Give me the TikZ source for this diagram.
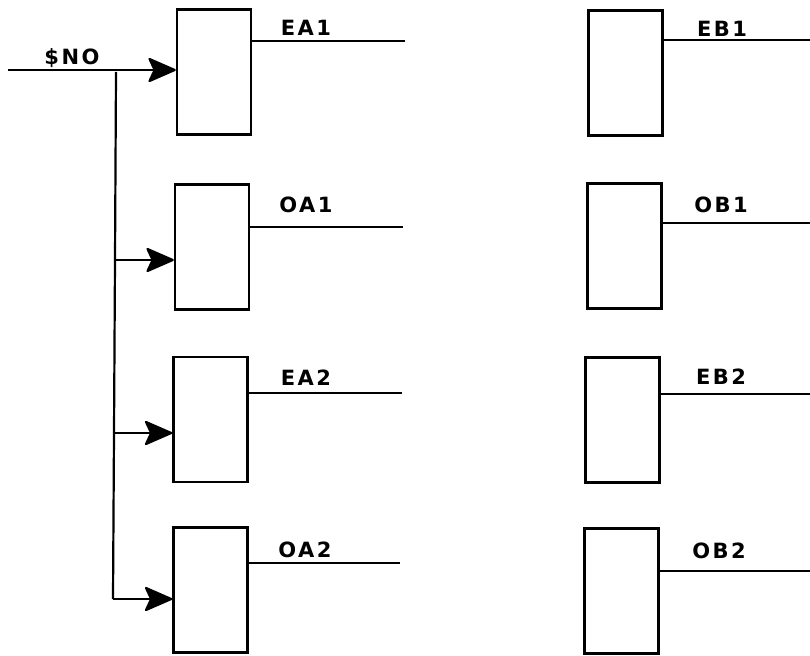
\documentclass[tikz,border=0pt]{standalone}
\usepackage{fontspec}
\newfontfamily\labfont[LetterSpace=12]{DejaVu Sans Bold}
\usetikzlibrary{arrows.meta}
\begin{document}
\begin{tikzpicture}[x=1pt,y=-1pt,
  blk/.style={draw,line width=2.4pt,minimum width=74pt,minimum height=125pt,inner sep=0pt},
  wire/.style={line width=2.2pt},
  feed/.style={line width=2.2pt,-{Stealth[length=30pt,width=26pt,inset=6pt,round]}},
  lab/.style={font=\labfont\fontsize{21}{24}\selectfont,inner sep=0pt,anchor=center}]
\useasboundingbox (0,0) rectangle (810,655);
% boxes
\node[blk] (a1) at (214,72) {};
\node[blk] (a2) at (212,247) {};
\node[blk] (a3) at (210.5,419.5) {};
\node[blk] (a4) at (210.5,590) {};
\node[blk] (b1) at (625.5,73) {};
\node[blk] (b2) at (624.5,246) {};
\node[blk] (b3) at (622.5,420) {};
\node[blk] (b4) at (621.5,591) {};
% output line ends
\coordinate (ea1) at (405,41);
\coordinate (oa1) at (403,227);
\coordinate (ea2) at (402,393);
\coordinate (oa2) at (400,563);
\coordinate (eb1) at (810,40);
\coordinate (ob1) at (810,223);
\coordinate (eb2) at (810,394);
\coordinate (ob2) at (810,571);
\draw[wire] (ea1 -| a1.east) -- (ea1);
\draw[wire] (oa1 -| a2.east) -- (oa1);
\draw[wire] (ea2 -| a3.east) -- (ea2);
\draw[wire] (oa2 -| a4.east) -- (oa2);
\draw[wire] (eb1 -| b1.east) -- (eb1);
\draw[wire] (ob1 -| b2.east) -- (ob1);
\draw[wire] (eb2 -| b3.east) -- (eb2);
\draw[wire] (ob2 -| b4.east) -- (ob2);
% labels
\node[lab] (tea1) at (306,28) {EA1};
\node[lab] (toa1) at (306,205) {OA1};
\node[lab] (tea2) at (306,378) {EA2};
\node[lab] (toa2) at (305,550) {OA2};
\node[lab] (teb1) at (722,29) {EB1};
\node[lab] (tob1) at (721,205) {OB1};
\node[lab] (teb2) at (721,377) {EB2};
\node[lab] (tob2) at (719,551) {OB2};
\node[lab] (tno) at (72,58) {\$NO};
% input
\coordinate (in) at (8,70);
\coordinate (top) at (116,72);
\coordinate (r2) at (115,260);
\coordinate (r3) at (114,433);
\coordinate (r4) at (113,599);
\draw[feed] (in) -- (in -| a1.west);
\draw[wire] (top) -- (r2) -- (r3) -- (r4);
\draw[feed] (r2) -- (r2 -| a2.west);
\draw[feed] (r3) -- (r3 -| a3.west);
\draw[feed] (r4) -- (r4 -| a4.west);
\end{tikzpicture}
\end{document}
